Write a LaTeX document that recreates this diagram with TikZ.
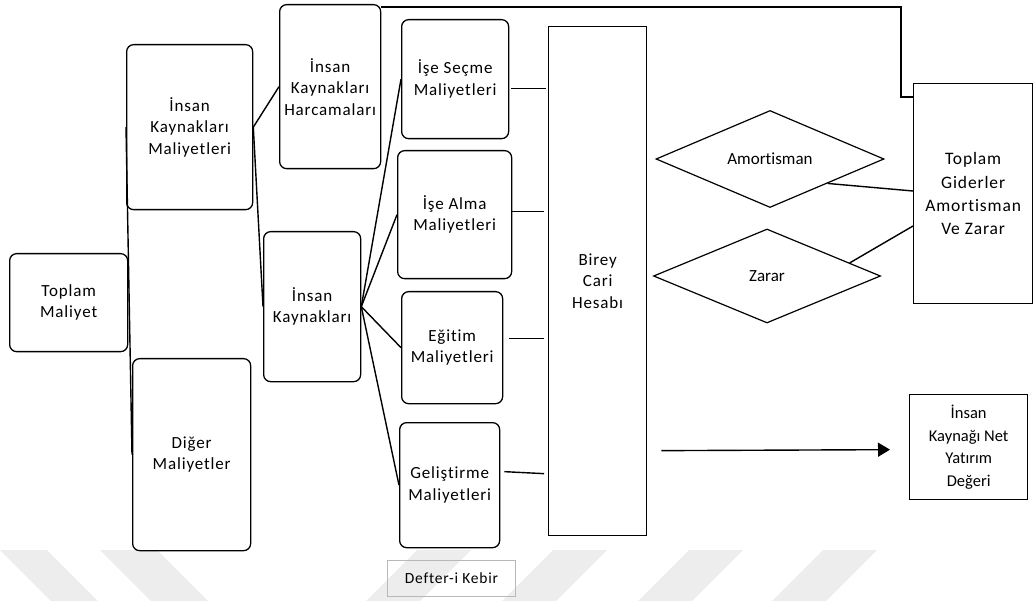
\documentclass[tikz,border=0pt]{standalone}
\usepackage{fontspec}
\setmainfont{Carlito}[LetterSpace=5,Ligatures=NoCommon]
\newfontfamily\plainfont{Carlito}[Ligatures=NoCommon]
\usetikzlibrary{shapes.geometric,arrows.meta,calc}
\begin{document}
\begin{tikzpicture}[x=1pt,y=-1pt,
  rbox/.style={draw,line width=1.3pt,rounded corners=7pt,anchor=north west,inner sep=0pt,align=center,font=\fontsize{17}{21.5}\selectfont},
  sbox/.style={draw,line width=1.3pt,anchor=north west,inner sep=0pt,align=center,font=\fontsize{17}{21.5}\selectfont},
  dia/.style={draw,diamond,line width=1.2pt,inner sep=0pt,font=\plainfont\fontsize{17}{20}\selectfont},
  conn/.style={line width=1.4pt},
  band/.style={fill=black!7,draw=none}]
\useasboundingbox (0,0) rectangle (1033,601);
% watermark bands
\fill[band] (0,550) -- (47,550) -- (98,601) -- (51,601) -- cycle;
\fill[band] (100,550) -- (157,550) -- (208,601) -- (151,601) -- cycle;
\foreach \x in {417,553,689,823}{
  \fill[band] (\x,550) -- ({\x+54},550) -- ({\x+3},601) -- ({\x-51},601) -- cycle;
}
% nodes
\node[rbox,minimum width=118pt,minimum height=98pt] (tm) at (9,253) {Toplam\\Maliyet};
\node[rbox,minimum width=126pt,minimum height=165pt] (ikm) at (126,44) {İnsan\\Kaynakları\\Maliyetleri};
\node[rbox,minimum width=118pt,minimum height=192pt] (dm) at (132,358) {Diğer\\Maliyetler};
\node[rbox,minimum width=101pt,minimum height=164pt] (ikh) at (279,4) {İnsan\\Kaynakları\\Harcamaları};
\node[rbox,minimum width=97pt,minimum height=150pt] (ik) at (263,231) {İnsan\\Kaynakları};
\node[rbox,minimum width=107pt,minimum height=119pt] (sec) at (401,19) {İşe Seçme\\Maliyetleri};
\node[rbox,minimum width=114pt,minimum height=128pt] (alm) at (397,150) {İşe Alma\\Maliyetleri};
\node[rbox,minimum width=101pt,minimum height=112pt] (egt) at (401,291) {Eğitim\\Maliyetleri};
\node[rbox,minimum width=100pt,minimum height=125pt] (gel) at (399,422) {Geliştirme\\Maliyetleri};
\node[sbox,minimum width=98pt,minimum height=509pt] (bch) at (548,26) {Birey\\Cari\\Hesabı};
\node[sbox,draw=black!28,line width=0.9pt,minimum width=128pt,minimum height=36pt,font=\fontsize{15.5}{18}\selectfont] (dk) at (387,560) {Defter-i Kebir};
\node[dia,minimum width=228pt,minimum height=94pt] (amo) at (770,159) {Amortisman};
\node[dia,minimum width=227pt,minimum height=94pt] (zar) at (767,276) {Zarar};
\node[sbox,minimum width=119pt,minimum height=220pt,font=\fontsize{17.5}{23.3}\selectfont] (tg) at (913,83) {Toplam\\Giderler\\Amortisman\\Ve Zarar};
\node[sbox,minimum width=118pt,minimum height=105pt,font=\plainfont\fontsize{16.5}{22.5}\selectfont] (net) at (909,394) {İnsan\\Kaynağı Net\\Yatırım\\Değeri};
% connectors
\draw[conn] (ikm.west) -- (dm.west);
\draw[conn] (ikm.east) -- (ikh.west);
\draw[conn] (ikm.east) -- (ik.west);
\draw[conn] (ik.east) -- (sec.west);
\draw[conn] (ik.east) -- (alm.west);
\draw[conn] (ik.east) -- (egt.west);
\draw[conn] (ik.east) -- (gel.west);
\draw[conn] ($(sec.east)+(2,9.5)$) -- ($(sec.east -| bch.west)+(-2,9.5)$);
\draw[conn] ($(alm.east)+(-1,-3)$) -- ($(alm.east -| bch.west)+(-4,-3)$);
\draw[conn] ($(egt.east)+(6,-9)$) -- ($(egt.east -| bch.west)+(-4,-9)$);
\draw[conn] ($(gel.east)+(4,-13.5)$) -- ($(gel.east -| bch.west)+(-4,-11.5)$);
\coordinate (a1) at ($(bch.east)+(14,169.5)$);
\coordinate (a2) at ($(net.west)+(-19,2.5)$);
\draw[conn,-{Triangle[length=12pt,width=14pt]}] (a1) -- (a2);
\coordinate (t1) at ($(ikh.north east)+(0,3)$);
\coordinate (t2) at ($(tg.north west)+(0,14)$);
\draw[conn] (t1) -- ($(t1 -| t2)+(-12,0)$) -- ($(t2)+(-12,0)$) -- (t2);
\draw[conn] (amo.-23) -- ($(tg.north west)+(0,108)$);
\draw[conn] (zar.9) -- ($(tg.north west)+(0,143)$);
\end{tikzpicture}
\end{document}
